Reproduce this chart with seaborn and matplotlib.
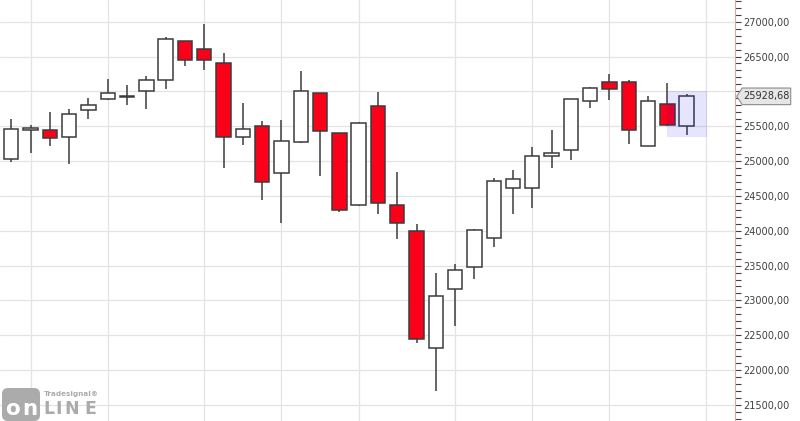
"""Weekly candlestick chart in the Tradesignal online style - seaborn theme,
matplotlib bars/vlines for the candles, price scale on the right."""
import matplotlib

matplotlib.use("Agg")  # headless
import matplotlib.pyplot as plt
from matplotlib.patches import FancyBboxPatch, Polygon, Rectangle
from matplotlib.ticker import FuncFormatter, MultipleLocator
import matplotlib.transforms as mtransforms
import pandas as pd
import seaborn as sns

# weekly OHLC
OPEN = [25034, 25442, 25442, 25341, 25729, 25886, 25925, 26001, 26159, 26719,
        26604, 26403, 25341, 25499, 24824, 25269, 25973, 25399, 24365, 25786,
        24365, 24002, 22313, 23160, 23476, 23892, 24609, 24609, 25068, 25155,
        25858, 26130, 26130, 25212, 25815, 25499]
HIGH = [25604, 25513, 25704, 25747, 25905, 26178, 26092, 26221, 26780, 26725,
        26967, 26551, 25829, 25575, 25589, 26293, 25978, 25402, 25556, 25991,
        24839, 24097, 23394, 23523, 24021, 24753, 24872, 25198, 25446, 25890,
        26063, 26250, 26163, 25934, 26120, 25962]
LOW = [24987, 25116, 25221, 24962, 25608, 25880, 25809, 25751, 26039, 26360,
       26311, 24905, 25235, 24441, 24116, 25265, 24790, 24274, 24362, 24245,
       23886, 22394, 21705, 22638, 23303, 23771, 24245, 24331, 24896, 25011,
       25766, 25881, 25249, 25210, 25510, 25378]
CLOSE = [25456, 25475, 25327, 25671, 25800, 25973, 25935, 26159, 26747, 26455,
         26455, 25341, 25456, 24695, 25284, 26001, 25427, 24294, 25542, 24394,
         24107, 22442, 23060, 23433, 24007, 24707, 24738, 25068, 25112, 25886,
         26044, 26030, 25450, 25858, 25513, 25928.68]
MONTH_STARTS = [1, 5, 10, 14, 18, 23, 27, 31, 36]
LAST_PRICE = 25928.68
HIGHLIGHT_LOW, HIGHLIGHT_HIGH = 25341, 26001

RED = "#fb0018"
EDGE = "#3c3c3c"
GRID = "#e3e3e3"
TEXT = "#404040"
LOGO = "#ababab"

W, H = 800, 421
AX_W = 734.7
YMIN, YMAX = 21270, 27311
XMIN, XMAX = -0.585, 37.49

df = pd.DataFrame({"open": OPEN, "high": HIGH, "low": LOW, "close": CLOSE})
df["x"] = range(len(df))
df["up"] = df["close"] >= df["open"]

sns.set_theme(style="white")
plt.rcParams["font.family"] = ["DejaVu Sans"]

fig = plt.figure(figsize=(W / 100, H / 100), dpi=100, facecolor="white")
ax = fig.add_axes([0, 0, AX_W / W, 1])
ax.set_xlim(XMIN, XMAX)
ax.set_ylim(YMIN, YMAX)

# wicks then bodies
ax.vlines(df["x"], df["low"], df["high"], color=EDGE, linewidth=1.1, zorder=2)
body_lo = df[["open", "close"]].min(axis=1)
body_h = (df["close"] - df["open"]).abs().clip(lower=1)
ax.bar(df["x"], body_h, bottom=body_lo, width=0.745,
       color=[("white" if u else RED) for u in df["up"]],
       edgecolor=EDGE, linewidth=1.1, zorder=3)

# highlight over the last candles
ax.add_patch(Rectangle((34.0, HIGHLIGHT_LOW), 2.04, HIGHLIGHT_HIGH - HIGHLIGHT_LOW,
                       facecolor=(0.1, 0.1, 0.95, 0.11), edgecolor="none", zorder=4))

# grid: month boundaries + 500 price steps
ax.set_xticks(MONTH_STARTS)
ax.yaxis.set_major_locator(MultipleLocator(500))
ax.yaxis.set_minor_locator(MultipleLocator(100))
ax.grid(True, which="major", color=GRID, linewidth=0.9, zorder=0)
ax.set_axisbelow(True)
ax.tick_params(axis="x", length=0, labelbottom=False)


def _price_label(v, _):
    # the last-price tag hides the scale label it sits on
    if abs(v - LAST_PRICE) < 150:
        return ""
    return f"{v:.2f}".replace(".", ",")


ax.yaxis.tick_right()
ax.yaxis.set_major_formatter(FuncFormatter(_price_label))
ax.tick_params(axis="y", which="both", right=True, length=4, width=0.8,
               color=TEXT, labelsize=7, labelcolor=TEXT, pad=2.5)
for name, spine in ax.spines.items():
    spine.set_visible(name == "right")
ax.spines["right"].set_color("#d9a9a9")
ax.spines["right"].set_linewidth(0.8)

# last-price tag on the scale
px_x = 1 / AX_W
px_y = (YMAX - YMIN) / H
trans = mtransforms.blended_transform_factory(ax.transAxes, ax.transData)
tag = [(1 + 2 * px_x, LAST_PRICE),
       (1 + 7.5 * px_x, LAST_PRICE + 8.3 * px_y),
       (1 + 56 * px_x, LAST_PRICE + 8.3 * px_y),
       (1 + 56 * px_x, LAST_PRICE - 8.3 * px_y),
       (1 + 7.5 * px_x, LAST_PRICE - 8.3 * px_y)]
ax.add_patch(Polygon(tag, closed=True, transform=trans, clip_on=False,
                     facecolor="#e6e6e6", edgecolor="#8c8c8c", linewidth=0.8, zorder=6))
ax.text(1 + 31.5 * px_x, LAST_PRICE, f"{LAST_PRICE:.2f}".replace(".", ","),
        transform=trans, ha="center", va="center", fontsize=7, color="#303030", zorder=7)

# logo, in a tiny pixel-unit axes bottom left
lg = fig.add_axes([0, 0, 110 / W, 40 / H])
lg.set_xlim(0, 110)
lg.set_ylim(0, 40)
lg.axis("off")
lg.add_patch(FancyBboxPatch((2, 0), 38, 33, boxstyle="round,pad=0,rounding_size=6",
                            facecolor=LOGO, edgecolor="none"))
for ch, cx in zip("on", [12.5, 29.5]):
    lg.text(cx, 12, ch, ha="center", va="center", fontsize=15.5, fontweight="bold", color="white")
for ch, cx in zip("LINE", [49, 59, 72, 90]):
    lg.text(cx, 12.5, ch, ha="center", va="center", fontsize=12.5, fontweight="bold", color=LOGO)
lg.text(71.5, 27, "Tradesignal®", ha="center", va="center", fontsize=5.2, fontweight="bold",
        color=LOGO)

fig.savefig("out.png", dpi=100, facecolor="white")
